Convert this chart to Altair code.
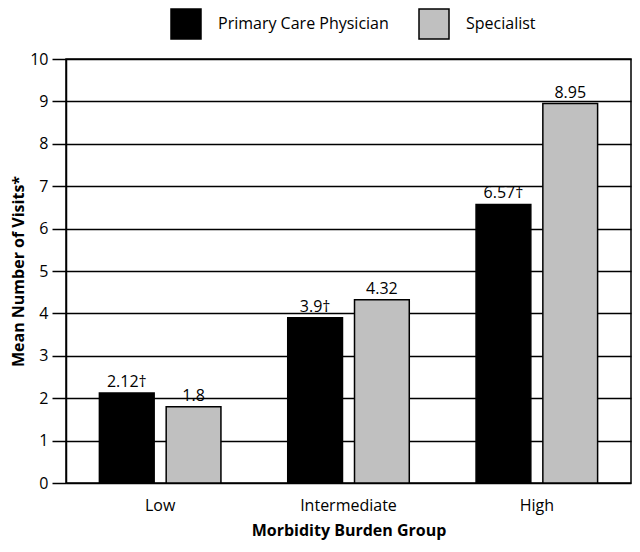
import altair as alt
import pandas as pd

groups = ["Low", "Intermediate", "High"]
series = ["Primary Care Physician", "Specialist"]
pcp_values = [2.12, 3.9, 6.57]
spec_values = [1.8, 4.32, 8.95]
pcp_labels = ["2.12†", "3.9†", "6.57†"]
spec_labels = ["1.8", "4.32", "8.95"]
y_ticks = list(range(0, 11))

rows = []
for g, v, l in zip(groups, pcp_values, pcp_labels):
    rows.append({"group": g, "series": series[0], "value": v, "label": l})
for g, v, l in zip(groups, spec_values, spec_labels):
    rows.append({"group": g, "series": series[1], "value": v, "label": l})
df = pd.DataFrame(rows)

FONT = "Open Sans"

x = alt.X(
    "group:N",
    sort=groups,
    scale=alt.Scale(paddingInner=0, paddingOuter=0),
    axis=alt.Axis(
        title="Morbidity Burden Group",
        labelAngle=0,
        ticks=False,
        domain=False,
        labelPadding=14,
        labelFontSize=16,
        labelColor="black",
        titleFontSize=16,
        titleFontWeight="bold",
        titleColor="black",
        titlePadding=9,
    ),
)
xo = alt.XOffset(
    "series:N",
    sort=series,
    scale=alt.Scale(paddingInner=0.18, paddingOuter=0.5),
)
y = alt.Y(
    "value:Q",
    scale=alt.Scale(domain=[0, 10], nice=False),
    axis=alt.Axis(
        title="Mean Number of Visits*",
        values=y_ticks,
        grid=True,
        gridColor="black",
        gridWidth=1.5,
        gridOpacity=1,
        tickSize=14,
        tickColor="black",
        tickWidth=1.5,
        domainColor="black",
        domainWidth=1.5,
        labelFontSize=16,
        labelColor="black",
        labelPadding=4,
        titleFontSize=16,
        titleFontWeight="bold",
        titleColor="black",
        titlePadding=3,
    ),
)

color = alt.Color(
    "series:N",
    sort=series,
    scale=alt.Scale(domain=series, range=["black", "#c0c0c0"]),
    legend=alt.Legend(
        title=None,
        orient="none",
        legendX=104,
        legendY=-51,
        direction="horizontal",
        symbolType="square",
        symbolSize=900,
        symbolStrokeColor="black",
        symbolStrokeWidth=1.5,
        symbolOpacity=1,
        labelFontSize=16,
        labelColor="black",
        labelOffset=16,
        labelLimit=400,
        columnPadding=27,
    ),
)

bars = alt.Chart(df).mark_bar(stroke="black", strokeWidth=1.5, opacity=1).encode(
    x=x, xOffset=xo, y=y, color=color
)
text = alt.Chart(df).mark_text(
    baseline="bottom", dy=-3, fontSize=16, color="black", font=FONT
).encode(x=x, xOffset=xo, y=y, text="label:N")

chart = (
    (bars + text)
    .properties(
        width=565,
        height=424,
        autosize=alt.AutoSizeParams(type="none"),
        padding={"left": 58, "top": 51, "right": 1, "bottom": 61},
    )
    .configure(font=FONT)
    .configure_view(stroke="black", strokeWidth=1.5)
)

chart.save("out.html", embed_options={"renderer": "svg", "actions": False})
